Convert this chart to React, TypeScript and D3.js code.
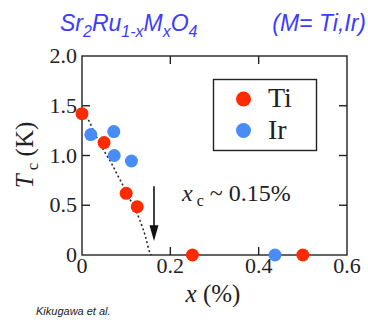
import React from 'react';
import * as d3 from 'd3';

// Tc vs substitution x
const tiX = [0, 0.05, 0.1, 0.125, 0.25, 0.5];
const tiTc = [1.42, 1.13, 0.62, 0.485, 0, 0];
const irX = [0.02, 0.072, 0.073, 0.112, 0.437];
const irTc = [1.21, 1.24, 1.0, 0.945, 0];

// guide-to-the-eye dotted curve
const fitX = [0, 0.014, 0.029, 0.048, 0.067, 0.082, 0.094, 0.113, 0.131, 0.144, 0.154, 0.157];
const fitTc = [1.42, 1.36, 1.22, 1.06, 0.92, 0.79, 0.69, 0.52, 0.35, 0.18, 0.02, 0];

const xTicks = [0, 0.2, 0.4, 0.6];
const xTickLabels = ['0', '0.2', '0.4', '0.6'];
const yTicks = [0, 0.5, 1.0, 1.5, 2.0];
const yTickLabels = ['0', '0.5', '1.0', '1.5', '2.0'];

const RED = '#ff2a00';
const BLUE = '#4a8cf6';
const TITLE = '#3c3cff';

const serif = {fontFamily: 'Liberation Serif'};
const sans = {fontFamily: 'Liberation Sans'};

export default function App() {
  const width = 368, height = 325;
  const x = d3.scaleLinear().domain([0, 0.6]).range([82, 347]);
  const y = d3.scaleLinear().domain([0, 2]).range([255, 56]);

  const fitLine = d3.line<number>()
    .x((d, i) => x(fitX[i]))
    .y((d, i) => y(fitTc[i]))
    .curve(d3.curveMonotoneX);

  const tickLen = 8;

  return (
    <svg width={width} height={height} style={{position: 'absolute', left: 0, top: 0}}>
      <rect width={width} height={height} fill="#fff" />

      {/* title */}
      <text x={60} y={31} fill={TITLE} style={sans} fontStyle="italic" fontSize={23}>
        Sr<tspan fontSize={16} dy={6}>2</tspan>
        <tspan dy={-6}>Ru</tspan><tspan fontSize={16} dy={6}>1-x</tspan>
        <tspan dy={-6}>M</tspan><tspan fontSize={16} dy={6}>x</tspan>
        <tspan dy={-6}>O</tspan><tspan fontSize={16} dy={6}>4</tspan>
      </text>
      <text x={366} y={31} fill={TITLE} style={sans} fontStyle="italic" fontSize={23} textAnchor="end">
        (M= Ti,Ir)
      </text>

      {/* frame */}
      <rect x={x(0)} y={y(2)} width={x(0.6) - x(0)} height={y(0) - y(2)}
        fill="none" stroke="#222" strokeWidth={1.4} />

      {xTicks.slice(1, -1).map(t => (
        <g key={'xt' + t}>
          <line x1={x(t)} x2={x(t)} y1={y(0)} y2={y(0) - tickLen} stroke="#222" strokeWidth={1.4} />
          <line x1={x(t)} x2={x(t)} y1={y(2)} y2={y(2) + tickLen} stroke="#222" strokeWidth={1.4} />
        </g>
      ))}
      {yTicks.slice(1, -1).map(t => (
        <g key={'yt' + t}>
          <line x1={x(0)} x2={x(0) + tickLen} y1={y(t)} y2={y(t)} stroke="#222" strokeWidth={1.4} />
          <line x1={x(0.6)} x2={x(0.6) - tickLen} y1={y(t)} y2={y(t)} stroke="#222" strokeWidth={1.4} />
        </g>
      ))}

      {xTicks.map((t, i) => (
        <text key={'xl' + t} x={x(t)} y={273} textAnchor="middle" style={serif} fontSize={22} fill="#222">
          {xTickLabels[i]}
        </text>
      ))}
      {yTicks.map((t, i) => (
        <text key={'yl' + t} x={77} y={y(t) + 7} textAnchor="end" style={serif} fontSize={22} fill="#222">
          {yTickLabels[i]}
        </text>
      ))}

      {/* axis titles */}
      <text x={213} y={302} textAnchor="middle" style={serif} fontSize={25} fill="#222">
        <tspan fontStyle="italic">x</tspan> (%)
      </text>
      <text transform={`translate(33,155) rotate(-90)`} textAnchor="middle" style={serif} fontSize={25} fill="#222">
        <tspan fontStyle="italic">T</tspan><tspan fontSize={17} dy={5}> c</tspan><tspan dy={-5}> (K)</tspan>
      </text>

      {/* dotted curve */}
      <path d={fitLine(fitX) || ''} fill="none" stroke="#222" strokeWidth={1.5} strokeDasharray="2,2.5" />

      {/* arrow */}
      <line x1={x(0.163)} x2={x(0.163)} y1={y(0.69)} y2={y(0.2)} stroke="#111" strokeWidth={1.6} />
      <path d={`M${x(0.163) - 4.5},${y(0.3)} L${x(0.163) + 4.5},${y(0.3)} L${x(0.163)},${y(0.14)} Z`} fill="#111" />

      <text x={182} y={201} style={serif} fontSize={24} fill="#222">
        <tspan fontStyle="italic">x</tspan><tspan fontSize={16} dy={5}> c</tspan><tspan dy={-5}> ~ 0.15%</tspan>
      </text>

      {/* data points */}
      {tiX.map((v, i) => (
        <circle key={'ti' + i} cx={x(v)} cy={y(tiTc[i])} r={6.5} fill={RED} />
      ))}
      {irX.map((v, i) => (
        <circle key={'ir' + i} cx={x(v)} cy={y(irTc[i])} r={6.5} fill={BLUE} />
      ))}

      {/* legend */}
      <rect x={213.5} y={79.5} width={103} height={71} fill="#fff" stroke="#222" strokeWidth={1.4} />
      <circle cx={243.5} cy={99} r={7.5} fill={RED} />
      <circle cx={243.5} cy={130.5} r={7.5} fill={BLUE} />
      <text x={268} y={107} style={serif} fontSize={28} fill="#222">Ti</text>
      <text x={268} y={139} style={serif} fontSize={28} fill="#222">Ir</text>

      <text x={36} y={315} style={sans} fontStyle="italic" fontSize={11} fill="#222">Kikugawa et al.</text>
    </svg>
  );
}
